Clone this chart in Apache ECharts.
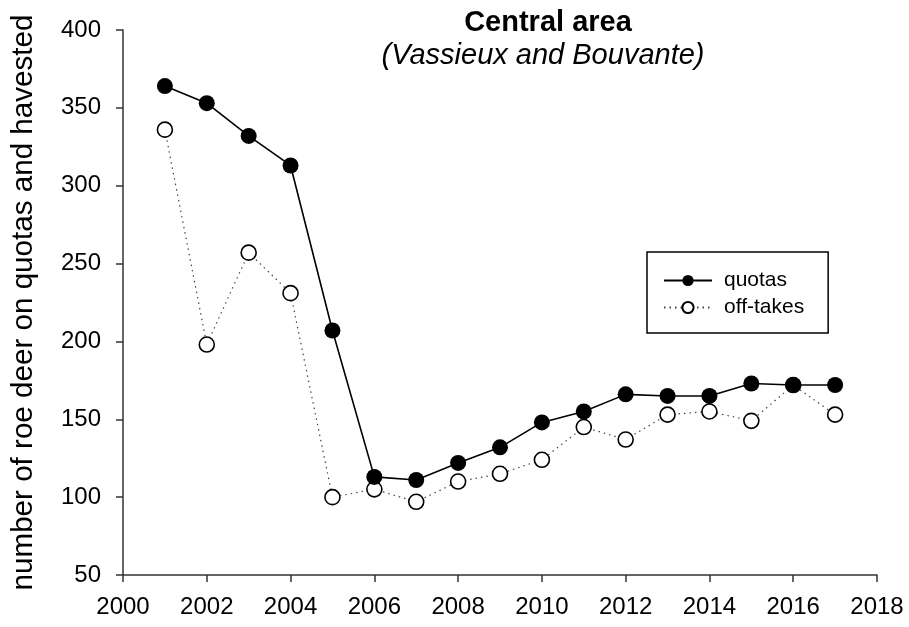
<!DOCTYPE html>
<html>
<head>
<meta charset="utf-8">
<script src="https://cdn.jsdelivr.net/npm/echarts@6/dist/echarts.min.js"></script>
<style>html,body{margin:0;padding:0;background:#fff}#c{width:909px;height:627px}</style>
</head>
<body>
<div id="c"></div>
<script>
var years = [2001,2002,2003,2004,2005,2006,2007,2008,2009,2010,2011,2012,2013,2014,2015,2016,2017];
var quotas = [364,353,332,313,207,113,111,122,132,148,155,166,165,165,173,172,172];
var offtakes = [336,198,257,231,100,105,97,110,115,124,145,137,153,155,149,172,153];
var titleText = 'Central area';
var subtitleText = '(Vassieux and Bouvante)';
var yName = 'number of roe deer on quotas and havested';

function pairs(xs, ys){ return xs.map(function(x,i){ return [x, ys[i]]; }); }

var font = 'Liberation Sans, Arial, sans-serif';
var chart = echarts.init(document.getElementById('c'), null, {renderer:'canvas'});
chart.setOption({
  animation: false,
  backgroundColor: '#fff',
  title: [
    {text: titleText, left: 543, top: 3, textAlign: 'center',
     textStyle: {fontFamily: font, fontSize: 29, fontWeight: 'bold', color: '#000'}},
    {text: subtitleText, left: 538, top: 36, textAlign: 'center',
     textStyle: {fontFamily: font, fontSize: 29, fontWeight: 'normal', fontStyle: 'italic', color: '#000'}}
  ],
  legend: {
    orient: 'vertical', left: 647, top: 252,
    padding: [18, 24, 15, 16],
    borderColor: '#000', borderWidth: 1.5, borderRadius: 0,
    itemWidth: 48, itemHeight: 14, itemGap: 6,
    textStyle: {fontFamily: font, fontSize: 21, color: '#000', padding: [0, 0, 0, 7]},
    data: ['quotas', 'off-takes']
  },
  grid: {left: 123, right: 32, top: 30, bottom: 52, containLabel: false},
  xAxis: {
    type: 'value', min: 2000, max: 2018, interval: 2,
    axisLine: {show: true, lineStyle: {color: '#333', width: 1.5}},
    axisTick: {show: true, inside: false, length: 7, lineStyle: {color: '#333', width: 1.5}},
    axisLabel: {fontFamily: font, fontSize: 24, color: '#000', margin: 20,
      formatter: function(v){ return String(v); }},
    splitLine: {show: false}
  },
  yAxis: {
    type: 'value', min: 50, max: 400, interval: 50,
    name: yName, nameLocation: 'middle', nameGap: 84, nameRotate: 90,
    nameTextStyle: {fontFamily: font, fontSize: 29.6, color: '#000'},
    axisLine: {show: true, lineStyle: {color: '#333', width: 1.5}},
    axisTick: {show: true, inside: false, length: 7, lineStyle: {color: '#333', width: 1.5}},
    axisLabel: {fontFamily: font, fontSize: 24, color: '#000', margin: 22},
    splitLine: {show: false}
  },
  series: [
    {
      name: 'off-takes', type: 'line', data: pairs(years, offtakes),
      symbol: 'circle', symbolSize: 15, z: 2,
      lineStyle: {color: '#444', width: 1.2, type: [1.5, 4]},
      itemStyle: {color: '#fff', borderColor: '#000', borderWidth: 1.6}
    },
    {
      name: 'quotas', type: 'line', data: pairs(years, quotas),
      symbol: 'circle', symbolSize: 16, z: 3,
      lineStyle: {color: '#000', width: 1.6},
      itemStyle: {color: '#000', borderColor: '#000', borderWidth: 0}
    }
  ]
});
</script>
</body>
</html>
